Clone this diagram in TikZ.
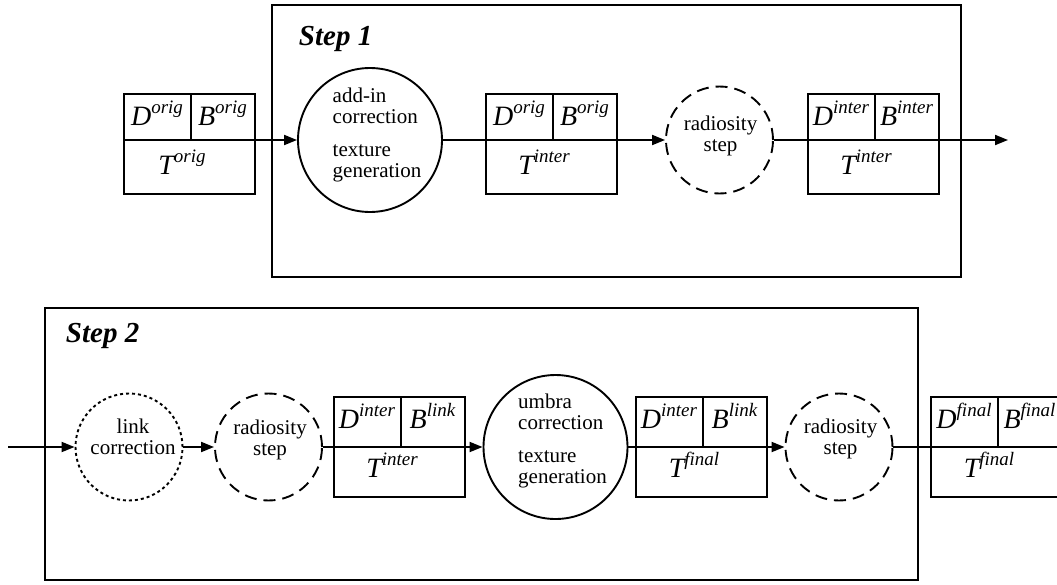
\documentclass[tikz,border=0pt]{standalone}
\usepackage{fontspec}
\setmainfont{Liberation Serif}
\usetikzlibrary{arrows.meta,calc}
\newcommand\symb[2]{{\fontsize{28}{28}\selectfont\itshape #1}\raisebox{11.5pt}{\fontsize{19}{19}\selectfont\itshape #2}}
% name, left, top, D-sup, B-sup, T-sup, midline offset
\newcommand\tbox[7]{%
  \node[tboxst] (#1) at (#2,#3) {};
  \coordinate (#1-w) at ($(#1.north west)+(0,#7)$);
  \coordinate (#1-e) at ($(#1.north east)+(0,#7)$);
  \coordinate (#1-dt) at ($(#1.north west)+(68,0)$);
  \coordinate (#1-db) at ($(#1.north west)+(68,#7)$);
  \draw (#1-w) -- (#1-e);
  \draw (#1-dt) -- (#1-db);
  \node[symtext] (#1-d) at ($(#1.north west)+(34,32)$) {\symb{D}{#4}};
  \node[symtext] (#1-b) at ($(#1.north west)+(99.5,32)$) {\symb{B}{#5}};
  \node[symtext] (#1-t) at ($(#1.north west)+(59,81)$) {\symb{T}{#6}};
}
\begin{document}
\begin{tikzpicture}[x=1pt,y=-1pt,line width=1.9pt,
  tboxst/.style={draw,rectangle,minimum width=131pt,minimum height=100pt,inner sep=0pt,anchor=north west},
  symtext/.style={inner sep=0pt,anchor=base},
  bigc/.style={draw,circle,minimum size=144pt,inner sep=0pt},
  smallc/.style={draw,circle,minimum size=107pt,inner sep=0pt},
  dashc/.style={smallc,dash pattern=on 12pt off 7pt},
  dotc/.style={smallc,dash pattern=on 3pt off 3pt},
  ctext/.style={font=\fontsize{21}{21}\selectfont,inner sep=0pt},
  steplbl/.style={font=\fontsize{29}{29}\selectfont\bfseries\itshape,inner sep=0pt,anchor=base west},
  arr/.style={-{Triangle[length=13pt,width=10pt]}}]
\useasboundingbox (0,0) rectangle (1057,584);
\clip (0,0) rectangle (1057,584);

% ---------- Step 1 ----------
\coordinate (s1a) at (272,5);
\coordinate (s1b) at (961,277);
\draw (s1a) rectangle (s1b);
\node[steplbl] (s1l) at (298,45) {Step 1};

\tbox{orig}{123}{93}{orig}{orig}{orig}{47}
\node[bigc] (c1) at (370,140) {};
\node[ctext,align=left] (c1t) at (377,135) {add-in\\correction\\[12pt]texture\\generation};
\tbox{b1}{485}{93}{orig}{orig}{inter}{47}
\node[dashc] (r1) at (719.5,140) {};
\node[ctext,align=center] (r1t) at (720.5,136) {radiosity\\step};
\tbox{b2}{807}{93}{inter}{inter}{inter}{47}
\coordinate (out1) at (1008,140);

\draw[arr] (orig-e) -- (c1);
\draw (c1) -- (b1-w);
\draw[arr] (b1-e) -- (r1);
\draw (r1) -- (b2-w);
\draw[arr] (b2-e) -- (out1);

% ---------- Step 2 ----------
\coordinate (s2a) at (45,308);
\coordinate (s2b) at (918,580);
\draw (s2a) rectangle (s2b);
\node[steplbl] (s2l) at (65,342) {Step 2};

\coordinate (in2) at (8,447);
\node[dotc] (lk) at (129,447) {};
\node[ctext,align=center] (lkt) at (133,437) {link\\correction};
\node[dashc] (r2) at (268.5,447) {};
\node[ctext,align=center] (r2t) at (270,440) {radiosity\\step};
\tbox{b3}{333}{396}{inter}{link}{inter}{51}
\node[bigc] (um) at (555.5,447) {};
\node[ctext,align=left] (umt) at (562.5,440.5) {umbra\\correction\\[12pt]texture\\generation};
\tbox{b4}{635}{396}{inter}{link}{final}{51}
\node[dashc] (r3) at (839,447) {};
\node[ctext,align=center] (r3t) at (840.5,439) {radiosity\\step};
\tbox{fin}{930}{396}{final}{final}{final}{51}

\draw[arr] (in2) -- (lk);
\draw[arr] (lk) -- (r2);
\draw (r2) -- (b3-w);
\draw[arr] (b3-e) -- (um);
\draw (um) -- (b4-w);
\draw[arr] (b4-e) -- (r3);
\draw (r3) -- (fin-w);
\end{tikzpicture}
\end{document}
